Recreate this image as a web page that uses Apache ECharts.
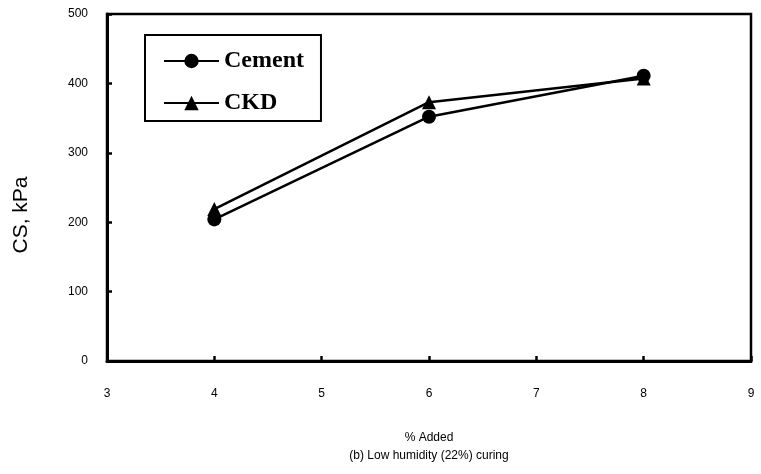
<!DOCTYPE html>
<html>
<head>
<meta charset="utf-8">
<script src="https://cdn.jsdelivr.net/npm/echarts@6/dist/echarts.min.js"></script>
<style>
  html, body { margin: 0; padding: 0; background: #fff; }
  #chart { width: 761px; height: 474px; }
</style>
</head>
<body>
<div id="chart"></div>
<script>
// Compressive strength vs. additive content, low-humidity curing
const percentAdded = [4, 6, 8];
const cementCS = [204, 352, 411];
const ckdCS = [219, 373, 407];
const xTicks = [3, 4, 5, 6, 7, 8, 9];
const yTicks = [0, 100, 200, 300, 400, 500];

const pairs = (xs, ys) => xs.map((x, i) => [x, ys[i]]);

const chart = echarts.init(document.getElementById('chart'), null, { renderer: 'canvas' });

const axisFont = { fontFamily: 'Liberation Sans, Arial, sans-serif', fontSize: 12, color: '#000' };

chart.setOption({
  animation: false,
  backgroundColor: '#fff',
  grid: {
    left: 107, right: 10, top: 14, bottom: 113,
    show: true, borderColor: '#000', borderWidth: 2.5, backgroundColor: 'transparent'
  },
  legend: {
    orient: 'vertical',
    left: 145, top: 35,
    padding: [14, 17, 6, 18],
    itemGap: 18,
    itemWidth: 55, itemHeight: 18,
    borderColor: '#000', borderWidth: 2,
    textStyle: { fontFamily: 'Liberation Serif, Times New Roman, serif', fontSize: 24, fontWeight: 'bold', color: '#000' },
    data: ['Cement', 'CKD']
  },
  xAxis: {
    type: 'value',
    min: xTicks[0], max: xTicks[xTicks.length - 1], interval: 1,
    name: '% Added',
    nameLocation: 'middle', nameGap: 71,
    nameTextStyle: axisFont,
    axisLine: { show: true, lineStyle: { color: '#000', width: 3 } },
    axisTick: { show: true, inside: true, length: 5, lineStyle: { color: '#000', width: 2.5 } },
    axisLabel: Object.assign({ margin: 27 }, axisFont),
    splitLine: { show: false }
  },
  yAxis: {
    type: 'value',
    min: yTicks[0], max: yTicks[yTicks.length - 1], interval: 100,
    axisLine: { show: true, lineStyle: { color: '#000', width: 3 } },
    axisTick: { show: true, inside: true, length: 5, lineStyle: { color: '#000', width: 2.5 } },
    axisLabel: Object.assign({ margin: 19 }, axisFont),
    splitLine: { show: false }
  },
  graphic: [
    {
      type: 'text',
      x: 21, y: 215,
      rotation: Math.PI / 2,
      style: {
        text: 'CS, kPa',
        font: '21px "Liberation Sans", Arial, sans-serif',
        fill: '#000',
        align: 'center',
        verticalAlign: 'middle'
      }
    },
    {
      type: 'text',
      x: 429, y: 456,
      style: {
        text: '(b) Low humidity (22%) curing',
        font: '12px "Liberation Sans", Arial, sans-serif',
        fill: '#000',
        align: 'center',
        verticalAlign: 'middle'
      }
    }
  ],
  series: [
    {
      name: 'Cement', type: 'line',
      data: pairs(percentAdded, cementCS),
      symbol: 'circle', symbolSize: 14,
      lineStyle: { color: '#000', width: 2.5 },
      itemStyle: { color: '#000' }
    },
    {
      name: 'CKD', type: 'line',
      data: pairs(percentAdded, ckdCS),
      symbol: 'triangle', symbolSize: 14,
      lineStyle: { color: '#000', width: 2.5 },
      itemStyle: { color: '#000' }
    }
  ]
});
</script>
</body>
</html>
